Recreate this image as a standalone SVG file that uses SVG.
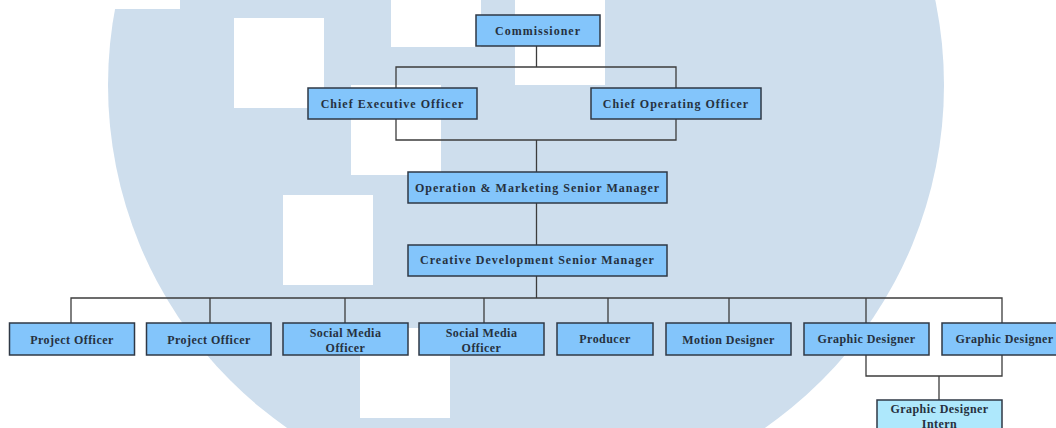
<svg xmlns="http://www.w3.org/2000/svg" width="1056" height="428" viewBox="0 0 1056 428">
  <style>
    .box { fill: #83c5fb; stroke: #2f3845; stroke-width: 1.5; }
    .intern { fill: #aee8fc; stroke: #2f3845; stroke-width: 1.5; }
    .t { font-family: "Liberation Serif", "Times New Roman", serif; font-size: 12px; font-weight: bold; letter-spacing: 1px; fill: #263140; text-anchor: middle; }
    .s { font-family: "Liberation Serif", "Times New Roman", serif; font-size: 12px; font-weight: bold; letter-spacing: 0.45px; fill: #263140; text-anchor: middle; }
    .c { fill: none; stroke: #3c3c3c; stroke-width: 1.3; }
    .cut { fill: #ffffff; }
  </style>
  <rect width="1056" height="428" fill="#ffffff"/>
  <g id="background">
    <circle cx="526" cy="85" r="418" fill="#cedeed"/>
    <rect class="cut" x="90" y="-81" width="90" height="90"/>
    <rect class="cut" x="234" y="18" width="90" height="90"/>
    <rect class="cut" x="391" y="-43" width="90" height="90"/>
    <rect class="cut" x="515" y="-5" width="90" height="90"/>
    <rect class="cut" x="351" y="85" width="90" height="90"/>
    <rect class="cut" x="283" y="195" width="90" height="90"/>
    <rect class="cut" x="360" y="328" width="90" height="90"/>
  </g>
  <g id="connectors">
    <path class="c" d="M536.5 46 V67 M396 88 V67 H676 V88"/>
    <path class="c" d="M396 119 V140 H676 V119 M536.5 140 V172"/>
    <path class="c" d="M536.5 203 V245"/>
    <path class="c" d="M536.5 276 V298 M71 323 V298 H1002 V323 M210 298 V323 M345 298 V323 M484 298 V323 M608 298 V323 M729 298 V323 M866 298 V323"/>
    <path class="c" d="M866 355 V376 H1002 V355 M939 376 V400"/>
  </g>
  <g id="commissioner">
    <rect class="box" x="476" y="15" width="124" height="31"/>
    <text class="t" x="538" y="35">Commissioner</text>
  </g>
  <g id="ceo">
    <rect class="box" x="308" y="88" width="169" height="31"/>
    <text class="t" x="392.5" y="108">Chief Executive Officer</text>
  </g>
  <g id="coo">
    <rect class="box" x="591" y="88" width="170" height="31"/>
    <text class="t" x="676" y="108">Chief Operating Officer</text>
  </g>
  <g id="omsm">
    <rect class="box" x="408" y="172" width="259" height="31"/>
    <text class="t" x="537.5" y="192">Operation &amp; Marketing Senior Manager</text>
  </g>
  <g id="cdsm">
    <rect class="box" x="408" y="245" width="259" height="31"/>
    <text class="t" x="537.5" y="264">Creative Development Senior Manager</text>
  </g>
  <g id="po1">
    <rect class="box" x="9.5" y="323" width="125" height="32"/>
    <text class="s" x="72" y="344">Project Officer</text>
  </g>
  <g id="po2">
    <rect class="box" x="146.5" y="323" width="124.5" height="32"/>
    <text class="s" x="209" y="344">Project Officer</text>
  </g>
  <g id="smo1">
    <rect class="box" x="283" y="323" width="125" height="32"/>
    <text class="s" x="345.5" y="337">Social Media</text>
    <text class="s" x="345.5" y="352">Officer</text>
  </g>
  <g id="smo2">
    <rect class="box" x="419" y="323" width="125" height="32"/>
    <text class="s" x="481.5" y="337">Social Media</text>
    <text class="s" x="481.5" y="352">Officer</text>
  </g>
  <g id="producer">
    <rect class="box" x="557" y="323" width="96" height="32"/>
    <text class="s" x="605" y="343">Producer</text>
  </g>
  <g id="motion">
    <rect class="box" x="666" y="323" width="125" height="32"/>
    <text class="s" x="728.5" y="344">Motion Designer</text>
  </g>
  <g id="gd1">
    <rect class="box" x="804" y="323" width="125" height="32"/>
    <text class="s" x="866.5" y="343">Graphic Designer</text>
  </g>
  <g id="gd2">
    <rect class="box" x="942" y="323" width="125" height="32"/>
    <text class="s" x="1004.5" y="343">Graphic Designer</text>
  </g>
  <g id="intern">
    <rect class="intern" x="877" y="400" width="125" height="40"/>
    <text class="s" x="939.5" y="413">Graphic Designer</text>
    <text class="s" x="939.5" y="428">Intern</text>
  </g>
</svg>
